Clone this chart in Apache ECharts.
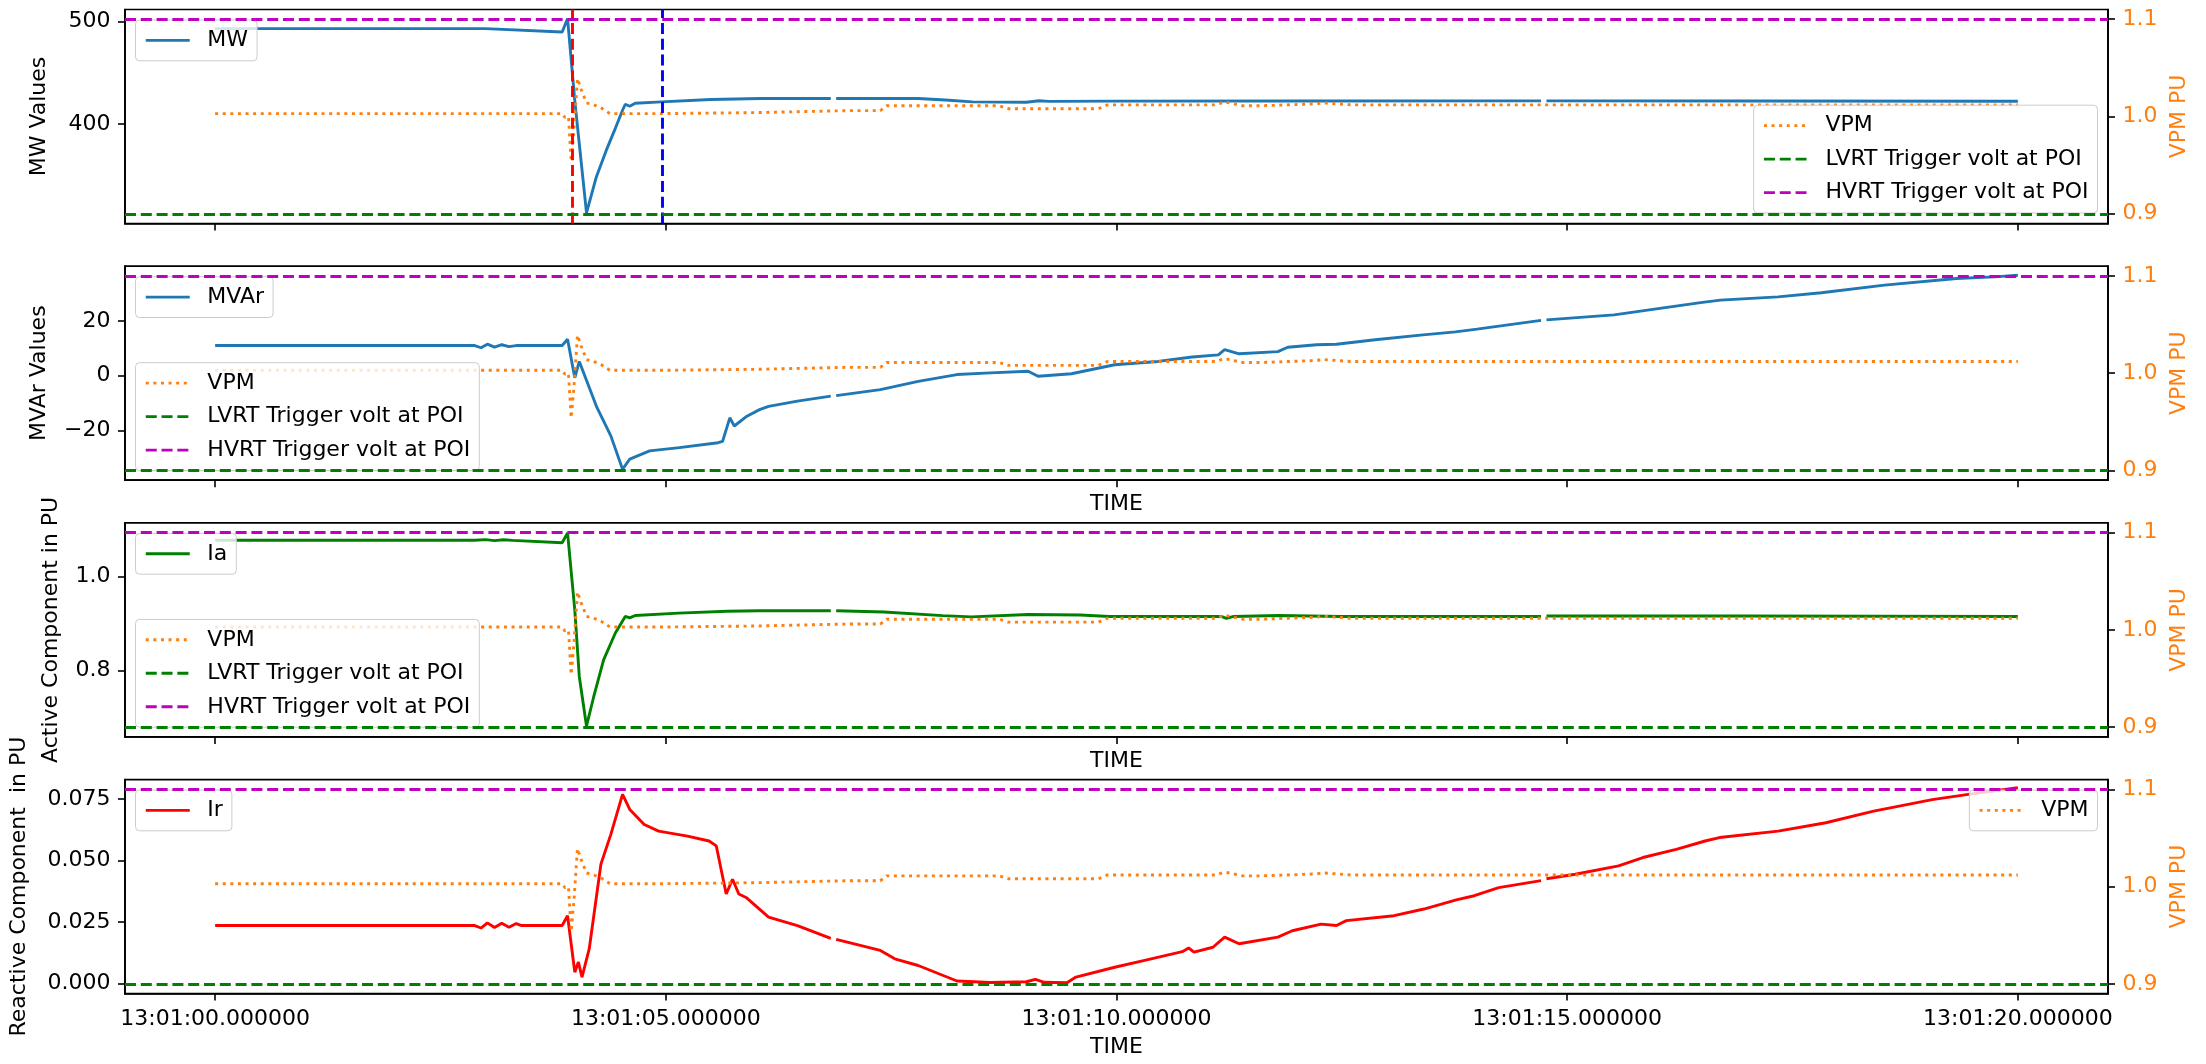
<!DOCTYPE html>
<html>
<head>
<meta charset="utf-8">
<script src="https://cdn.jsdelivr.net/npm/echarts@6/dist/echarts.min.js"></script>
<style>
html,body{margin:0;padding:0;background:#ffffff;}
#chart{width:2206px;height:1064px;}
</style>
</head>
<body>
<div id="chart"></div>
<script>
// ---------------- DATA ----------------
// time in seconds after 13:01:00
const xTickValues = [0, 5, 10, 15, 20];
const xTickLabels = ['13:01:00.000000', '13:01:05.000000', '13:01:10.000000', '13:01:15.000000', '13:01:20.000000'];
const xRange = [-1, 21];

const eventLineTimes = [3.96, 4.96];   // red, blue vertical markers (panel 1)
const lvrtLevel = 0.9;
const hvrtLevel = 1.1;

const mwTickValues = [400, 500];
const mwTickLabels = ['400', '500'];
const mvarTickValues = [-20, 0, 20];
const mvarTickLabels = ['\u221220', '0', '20'];
const iaTickValues = [0.8, 1.0];
const iaTickLabels = ['0.8', '1.0'];
const irTickValues = [0, 0.025, 0.05, 0.075];
const irTickLabels = ['0.000', '0.025', '0.050', '0.075'];
const vpmTickValues = [0.9, 1.0, 1.1];
const vpmTickLabels = ['0.9', '1.0', '1.1'];

const mwRange = [303.5, 511.5];
const mvarRange = [-38.2, 40.0];
const iaRange = [0.660, 1.113];
const irRange = [-0.004, 0.0828];
const vpmRange = [0.89, 1.11];

const mwData = [[0,492.9],[3.0,492.9],[3.85,489.6],[3.91,502.6],[3.99,423.0],[4.12,313.9],[4.23,349.0],[4.34,374.8],[4.44,396.0],[4.52,413.6],[4.55,419.4],[4.6,417.5],[4.66,420.4],[4.95,421.7],[5.5,424.0],[6.05,425.0],[6.83,425.0],[6.86,null],[6.89,425.0],[7.8,425.0],[8.1,423.5],[8.4,421.7],[9.0,421.4],[9.14,422.8],[9.25,422.2],[10.0,422.4],[12.0,422.6],[14.71,422.7],[14.74,null],[14.77,422.7],[17.0,422.5],[20.0,422.3]];

const mvarData = [[0,11.0],[2.88,11.0],[2.95,10.2],[3.02,11.5],[3.1,10.4],[3.18,11.3],[3.26,10.6],[3.34,11.0],[3.85,11.0],[3.91,13.3],[3.99,-0.8],[4.04,5.2],[4.23,-11.2],[4.39,-22.0],[4.52,-34.2],[4.6,-30.5],[4.82,-27.5],[5.15,-26.3],[5.58,-24.5],[5.63,-24.0],[5.71,-15.4],[5.76,-18.4],[5.9,-14.8],[6.04,-12.4],[6.14,-11.2],[6.46,-9.3],[6.83,-7.5],[6.86,null],[6.89,-7.3],[7.38,-5.1],[7.8,-2.1],[8.23,0.4],[8.6,1.0],[9.02,1.6],[9.13,-0.2],[9.5,0.7],[9.98,4.0],[10.46,5.2],[10.84,6.8],[11.13,7.6],[11.2,9.5],[11.36,8.0],[11.79,8.8],[11.9,10.4],[12.22,11.3],[12.44,11.5],[12.87,13.1],[13.4,14.9],[13.76,16.0],[14.0,17.0],[14.71,20.2],[14.74,null],[14.77,20.4],[15.52,22.2],[15.95,24.2],[16.48,26.7],[16.7,27.6],[17.34,28.8],[17.82,30.3],[18.52,33.1],[19.32,35.5],[19.74,36.1],[20.0,36.7]];

const iaData = [[0,1.0764],[2.88,1.0764],[3.0,1.0775],[3.1,1.0755],[3.2,1.0772],[3.3,1.076],[3.85,1.071],[3.91,1.092],[3.99,0.929],[4.04,0.788],[4.12,0.683],[4.2,0.745],[4.31,0.823],[4.44,0.880],[4.55,0.915],[4.6,0.912],[4.66,0.917],[5.14,0.922],[5.68,0.926],[6.04,0.927],[6.83,0.927],[6.86,null],[6.89,0.927],[7.42,0.9245],[8.07,0.9167],[8.39,0.914],[9.02,0.919],[9.6,0.918],[9.92,0.915],[11.16,0.915],[11.22,0.911],[11.3,0.915],[11.8,0.917],[12.5,0.915],[14.71,0.915],[14.74,null],[14.77,0.916],[17.0,0.916],[20.0,0.915]];

const irData = [[0,0.0236],[2.88,0.0236],[2.95,0.0226],[3.02,0.0247],[3.1,0.0228],[3.18,0.0245],[3.26,0.0229],[3.34,0.0244],[3.4,0.0236],[3.85,0.0236],[3.91,0.0276],[3.99,0.0047],[4.03,0.0088],[4.07,0.0027],[4.15,0.0141],[4.28,0.0485],[4.39,0.0606],[4.52,0.0768],[4.6,0.0707],[4.76,0.0646],[4.92,0.0619],[5.24,0.0599],[5.48,0.0579],[5.56,0.0559],[5.67,0.0364],[5.74,0.0424],[5.81,0.0364],[5.89,0.035],[6.14,0.027],[6.46,0.0236],[6.83,0.0184],[6.86,null],[6.89,0.018],[7.38,0.0135],[7.54,0.0101],[7.8,0.0074],[8.23,0.0011],[8.6,0.0005],[9.0,0.0008],[9.1,0.0018],[9.2,0.0006],[9.45,0.0004],[9.55,0.0027],[9.98,0.0067],[10.3,0.0094],[10.73,0.013],[10.8,0.0145],[10.86,0.0128],[11.07,0.0148],[11.2,0.0189],[11.36,0.0162],[11.79,0.0189],[11.95,0.0215],[12.27,0.0242],[12.44,0.0236],[12.55,0.0256],[13.08,0.0276],[13.41,0.0303],[13.77,0.034],[13.97,0.0357],[14.24,0.039],[14.71,0.0418],[14.74,null],[14.77,0.0426],[15.09,0.0444],[15.57,0.0478],[15.84,0.0512],[16.21,0.0545],[16.53,0.0579],[16.69,0.0593],[17.34,0.0619],[17.87,0.0653],[18.4,0.070],[19.05,0.0747],[19.45,0.0768],[20.0,0.0795]];

const vpmData = [[0,1.003],[3.85,1.003],[3.88,0.999],[3.92,1.0],[3.95,0.954],[3.98,0.985],[4.02,1.039],[4.06,1.028],[4.12,1.014],[4.2,1.012],[4.28,1.009],[4.38,1.003],[5.0,1.003],[6.0,1.004],[6.5,1.005],[7.0,1.006],[7.38,1.006],[7.45,1.011],[8.7,1.011],[8.8,1.008],[9.8,1.008],[9.9,1.012],[11.1,1.012],[11.2,1.015],[11.4,1.011],[11.6,1.011],[12.2,1.013],[12.3,1.014],[12.6,1.012],[20.0,1.012]];

// ---------------- STYLE / LAYOUT ----------------
const FONT = 'DejaVu Sans';
const FS = 22;
const C_BLUE = '#1f77b4', C_ORANGE = '#ff7f0e', C_GREEN = '#008000', C_MAG = '#bf00bf', C_RED = '#ff0000', C_PURE_BLUE = '#0000ff';
const LW = 2.9;
const DASH = [11, 4.8];
const DOT = [3, 4.6];

const gridLeft = 125, gridRight = 98, gridH = 214;
const gridTops = [9.5, 266.2, 522.9, 779.6];

function toSeriesData(pairs) {
  return pairs.map(p => [p[0], p[1] === null ? '-' : p[1]]);
}
function labelFor(values, labels) {
  return function (v) {
    for (let i = 0; i < values.length; i++) if (Math.abs(values[i] - v) < 1e-9) return labels[i];
    return '';
  };
}

const grids = gridTops.map(t => ({
  left: gridLeft, right: gridRight, top: t, height: gridH,
  show: true, borderColor: '#000', borderWidth: 1.7, backgroundColor: 'transparent',
  containLabel: false, outerBoundsMode: 'none'
}));

const xNameGaps = [0, 13, 13, 43];
const xAxes = [0, 1, 2, 3].map(i => ({
  type: 'value', gridIndex: i, position: 'bottom', min: xRange[0], max: xRange[1],
  axisLine: { show: true, onZero: false, lineStyle: { color: '#000', width: 1.7 } },
  axisTick: { show: true, inside: false, length: 7, customValues: xTickValues, lineStyle: { color: '#000', width: 1.6 } },
  axisLabel: { show: i === 3, customValues: xTickValues, formatter: labelFor(xTickValues, xTickLabels),
    margin: 14.6, color: '#000', fontFamily: FONT, fontSize: FS },
  splitLine: { show: false },
  name: i === 0 ? '' : 'TIME', nameLocation: 'middle', nameGap: xNameGaps[i],
  nameTextStyle: { color: '#000', fontFamily: FONT, fontSize: FS }
}));

const leftDefs = [
  { range: mwRange, ticks: mwTickValues, labels: mwTickLabels, name: 'MW Values', gap: 75 },
  { range: mvarRange, ticks: mvarTickValues, labels: mvarTickLabels, name: 'MVAr Values', gap: 75 },
  { range: iaRange, ticks: iaTickValues, labels: iaTickLabels, name: 'Active Component in PU', gap: 63 },
  { range: irRange, ticks: irTickValues, labels: irTickLabels, name: 'Reactive Component  in PU', gap: 95 }
];
const yAxes = [];
leftDefs.forEach((d, i) => {
  yAxes.push({
    type: 'value', gridIndex: i, position: 'left', min: d.range[0], max: d.range[1],
    axisLine: { show: true, onZero: false, lineStyle: { color: '#000', width: 1.7 } },
    axisTick: { show: true, inside: false, length: 7, customValues: d.ticks, lineStyle: { color: '#000', width: 1.6 } },
    axisLabel: { customValues: d.ticks, formatter: labelFor(d.ticks, d.labels), margin: 14.6, color: '#000', fontFamily: FONT, fontSize: FS },
    splitLine: { show: false },
    name: d.name, nameLocation: 'middle', nameRotate: 90, nameGap: d.gap,
    nameTextStyle: { color: '#000', fontFamily: FONT, fontSize: FS }
  });
  yAxes.push({
    type: 'value', gridIndex: i, position: 'right', min: vpmRange[0], max: vpmRange[1],
    axisLine: { show: true, onZero: false, lineStyle: { color: '#000', width: 1.7 } },
    axisTick: { show: true, inside: false, length: 7, customValues: vpmTickValues, lineStyle: { color: '#000', width: 1.6 } },
    axisLabel: { customValues: vpmTickValues, formatter: labelFor(vpmTickValues, vpmTickLabels), margin: 14.6, color: C_ORANGE, fontFamily: FONT, fontSize: FS },
    splitLine: { show: false },
    name: 'VPM PU', nameLocation: 'middle', nameRotate: 90, nameGap: 59,
    nameTextStyle: { color: C_ORANGE, fontFamily: FONT, fontSize: FS }
  });
});

const mainDefs = [
  { name: 'MW', data: mwData, color: C_BLUE },
  { name: 'MVAr', data: mvarData, color: C_BLUE },
  { name: 'Ia', data: iaData, color: C_GREEN },
  { name: 'Ir', data: irData, color: C_RED }
];

const series = [];
mainDefs.forEach((d, i) => {
  series.push({
    type: 'line', name: d.name, xAxisIndex: i, yAxisIndex: 2 * i,
    data: toSeriesData(d.data), symbol: 'none', showSymbol: false, connectNulls: false,
    lineStyle: { color: d.color, width: LW }, itemStyle: { color: d.color }, z: 2, silent: true
  });
  if (i === 0) {
    series.push({
      type: 'line', name: 'event markers', xAxisIndex: 0, yAxisIndex: 0, data: [], symbol: 'none', z: 2,
      markLine: {
        silent: true, symbol: ['none', 'none'], label: { show: false }, animation: false,
        data: [
          { xAxis: eventLineTimes[0], lineStyle: { color: C_RED, type: DASH, width: LW } },
          { xAxis: eventLineTimes[1], lineStyle: { color: C_PURE_BLUE, type: DASH, width: LW } }
        ]
      }
    });
  }
  series.push({
    type: 'line', name: 'VPM', xAxisIndex: i, yAxisIndex: 2 * i + 1,
    data: toSeriesData(vpmData), symbol: 'none', showSymbol: false,
    lineStyle: { color: C_ORANGE, width: LW, type: DOT }, itemStyle: { color: C_ORANGE }, z: 3, silent: true
  });
  series.push({
    type: 'line', name: 'LVRT Trigger volt at POI', xAxisIndex: i, yAxisIndex: 2 * i + 1, data: [], symbol: 'none',
    lineStyle: { color: C_GREEN, width: LW, type: DASH }, itemStyle: { color: C_GREEN }, z: 3,
    markLine: { silent: true, symbol: ['none', 'none'], label: { show: false }, animation: false,
      lineStyle: { color: C_GREEN, width: LW, type: DASH }, data: [{ yAxis: lvrtLevel }] }
  });
  series.push({
    type: 'line', name: 'HVRT Trigger volt at POI', xAxisIndex: i, yAxisIndex: 2 * i + 1, data: [], symbol: 'none',
    lineStyle: { color: C_MAG, width: LW, type: DASH }, itemStyle: { color: C_MAG }, z: 3,
    markLine: { silent: true, symbol: ['none', 'none'], label: { show: false }, animation: false,
      lineStyle: { color: C_MAG, width: LW, type: DASH }, data: [{ yAxis: hvrtLevel }] }
  });
});

function legendCfg(names, pos) {
  return Object.assign({
    data: names, orient: 'vertical', selectedMode: false,
    itemWidth: 44, itemHeight: 14, itemGap: 9.5,
    padding: [8.4, 9, 8.4, 8.8],
    backgroundColor: 'rgba(255,255,255,0.8)', borderColor: '#cccccc', borderWidth: 1, borderRadius: 4,
    itemStyle: { opacity: 0, borderWidth: 0 },
    lineStyle: { width: LW },
    textStyle: { fontFamily: FONT, fontSize: FS, color: '#000', lineHeight: 24, padding: [0, 0, 0, 12.6] }
  }, pos);
}
const threeNames = ['VPM', 'LVRT Trigger volt at POI', 'HVRT Trigger volt at POI'];
const legends = [
  legendCfg(['MW'], { left: 135.5, top: 20 }),
  legendCfg(threeNames, { right: 108.5, top: 105.2 }),
  legendCfg(['MVAr'], { left: 135.5, top: 276.7 }),
  legendCfg(threeNames, { left: 135.5, top: 362.7 }),
  legendCfg(['Ia'], { left: 135.5, top: 533.4 }),
  legendCfg(threeNames, { left: 135.5, top: 619.4 }),
  legendCfg(['Ir'], { left: 135.5, top: 790 }),
  legendCfg(['VPM'], { right: 108.5, top: 790 })
];

const chart = echarts.init(document.getElementById('chart'), null, { renderer: 'canvas' });
chart.setOption({
  animation: false,
  backgroundColor: '#ffffff',
  textStyle: { fontFamily: FONT },
  grid: grids,
  xAxis: xAxes,
  yAxis: yAxes,
  legend: legends,
  series: series
});
</script>
</body>
</html>
